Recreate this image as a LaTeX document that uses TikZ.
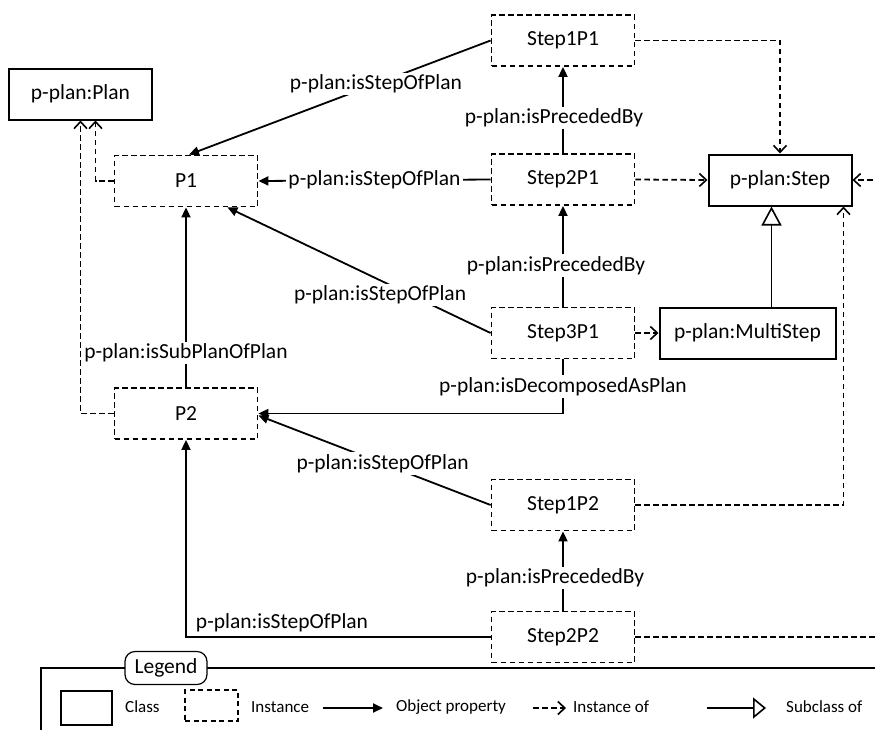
\documentclass[tikz,border=0pt]{standalone}
\usepackage{fontspec}
\setmainfont{Carlito}
\usetikzlibrary{arrows.meta}
\begin{document}
\begin{tikzpicture}[x=1pt,y=-1pt,
  every node/.style={font=\fontsize{21.5}{25}\selectfont},
  cls/.style={draw, line width=2pt, minimum width=143pt, minimum height=51pt, inner sep=0pt},
  inst/.style={draw, line width=1.8pt, dash pattern=on 5.5pt off 3.5pt, minimum width=143pt, minimum height=51pt, inner sep=0pt},
  prop/.style={line width=1.8pt, -{Triangle[length=10pt,width=9pt]}},
  instof/.style={line width=1.8pt, dash pattern=on 5.5pt off 3.5pt, -{Straight Barb[length=7pt,width=13pt,line width=1.6pt]}},
  subcl/.style={line width=1.8pt, -{Triangle[open,length=19pt,width=20pt,line width=1.6pt]}},
  lbl/.style={fill=white, inner sep=2pt},
  leg/.style={font=\fontsize{17}{20}\selectfont, anchor=west, inner sep=0pt},
]
\useasboundingbox (0,0) rectangle (875,729);
\clip (0,0) rectangle (875,729);

% classes
\node[cls] (plan) at (80.5,94) {p-plan:Plan};
\node[cls] (step) at (780,180) {p-plan:Step};
\node[cls, minimum width=176pt] (ms) at (747.5,333) {p-plan:MultiStep};

% instances
\node[inst] (p1) at (186,181) {P1};
\node[inst] (p2) at (186,413.5) {P2};
\node[inst] (s1p1) at (563,40.5) {Step1P1};
\node[inst] (s2p1) at (563,179.5) {Step2P1};
\node[inst] (s3p1) at (563,333) {Step3P1};
\node[inst] (s1p2) at (563,505) {Step1P2};
\node[inst] (s2p2) at (563,637) {Step2P2};

\coordinate (rt) at (890,400);

% object properties
\draw[prop] (s1p1.west) -- node[lbl, pos=0.38] {p-plan:isStepOfPlan} ([xshift=3pt]p1.north);
\draw[prop] (s2p1.west) -- node[lbl] {p-plan:isStepOfPlan} (p1.east);
\draw[prop] (s3p1.west) -- node[lbl, pos=0.42, yshift=-15pt] {p-plan:isStepOfPlan} ([xshift=-31pt]p1.south east);
\draw[prop] (s2p1.north) -- node[lbl, pos=0.41, xshift=-9pt] {p-plan:isPrecededBy} (s1p1.south);
\draw[prop] (s3p1.north) -- node[lbl, pos=0.41, xshift=-7pt] {p-plan:isPrecededBy} (s2p1.south);
\draw[prop] (s3p1.south) |- node[lbl, pos=0.25] {p-plan:isDecomposedAsPlan} (p2.east);
\draw[prop] (p2.north) -- node[lbl, pos=0.19] {p-plan:isSubPlanOfPlan} (p1.south);
\draw[prop] (s1p2.west) -- node[lbl, pos=0.465] {p-plan:isStepOfPlan} ([yshift=-2pt]p2.east);
\draw[prop] (s2p2.north) -- node[lbl, pos=0.41, xshift=-8pt] {p-plan:isPrecededBy} (s1p2.south);
\draw[prop] (s2p2.west) -| node[pos=0.49, anchor=south west, inner sep=3pt, yshift=1pt] {p-plan:isStepOfPlan} (p2.south);

% instance-of links
\draw[instof] (s1p1.east) -| (step.north);
\draw[instof] (s2p1.east) -- (step.west);
\draw[instof] (s3p1.east) -- (ms.west);
\draw[instof] (s1p2.east) -| ([xshift=-9pt]step.south east);
\draw[instof] (s2p2.east) -| (rt) |- (step.east);
\draw[instof] (p1.west) -| ([xshift=15pt]plan.south);
\draw[instof] (p2.west) -| (plan.south);

% subclass link
\draw[subcl] ([xshift=24pt]ms.north) -- ([xshift=24pt]ms.north |- step.south);

% legend
\draw[line width=1.2pt] (41,760) -- (41,668) -- (900,668);
\node[draw, line width=1.2pt, rounded corners=10pt, fill=white, minimum width=82pt, minimum height=33pt, inner sep=0pt] (legend) at (166,668) {Legend};

\node[draw, line width=2pt, minimum width=51pt, minimum height=34pt, inner sep=0pt] (lgcls) at (86,708) {};
\node[leg] (lgclst) at (125,707) {Class};
\node[draw, line width=1.8pt, dash pattern=on 5pt off 3.5pt, minimum width=53pt, minimum height=31pt, inner sep=0pt] (lginst) at (211.5,705.5) {};
\node[leg] (lginstt) at (251,707) {Instance};
\coordinate (lgpa) at (323,708);
\coordinate (lgpb) at (383,708);
\draw[prop] (lgpa) -- (lgpb);
\node[leg] (lgpropt) at (396,707) {Object property};
\coordinate (lgia) at (533,708);
\coordinate (lgib) at (566,708);
\draw[instof] (lgia) -- (lgib);
\node[leg] (lginsoft) at (573,707) {Instance of};
\coordinate (lgsa) at (707,708);
\coordinate (lgsb) at (766,708);
\draw[line width=1.8pt, -{Triangle[open,length=13pt,width=21pt,line width=1.6pt]}] (lgsa) -- (lgsb);
\node[leg] (lgsubt) at (786,707) {Subclass of};
\end{tikzpicture}
\end{document}
